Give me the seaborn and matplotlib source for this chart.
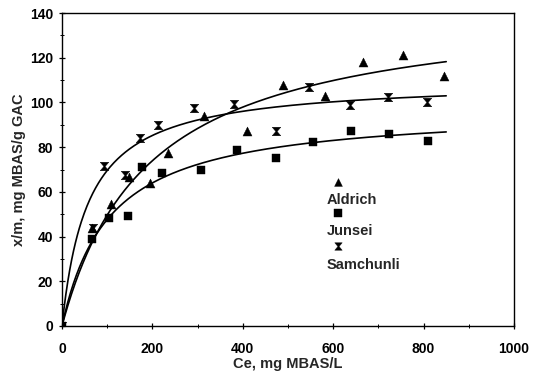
import numpy as np
import pandas as pd
import matplotlib
matplotlib.use("Agg")
import matplotlib.pyplot as plt
from matplotlib.path import Path
from matplotlib.ticker import MultipleLocator
import seaborn as sns

# Equilibrium MBAS concentration (mg/L) and uptake (mg MBAS / g GAC)
ce_aldrich = [0, 66, 108, 148, 195, 235, 314, 409, 489, 582, 666, 754, 845]
q_aldrich = [0, 44, 54.6, 66.6, 64, 77.4, 94, 87.2, 107.8, 103, 118, 121, 112]

ce_junsei = [0, 66, 104, 146, 177, 221, 307, 387, 473, 556, 639, 724, 810]
q_junsei = [0, 39, 48.3, 49.2, 71, 68.4, 69.8, 78.7, 75.1, 82.3, 87.2, 85.9, 82.7]

ce_samchunli = [0, 68, 93, 139, 173, 213, 292, 381, 473, 546, 637, 721, 807]
q_samchunli = [0, 44, 71.6, 67.5, 84, 90, 97.5, 99.3, 87.2, 107, 98.8, 102.4, 100.2]

suppliers = ["Aldrich", "Junsei", "Samchunli"]

# Langmuir isotherm constants (Qm in mg/g, b in L/mg)
langmuir_qm = {"Aldrich": 145.0, "Junsei": 97.5, "Samchunli": 110.0}
langmuir_b = {"Aldrich": 0.0052, "Junsei": 0.00955, "Samchunli": 0.0172}
ce_fit_max = 850

sns.set_theme(style="ticks")
plt.rcParams["font.family"] = ["Liberation Sans", "DejaVu Sans"]
plt.rcParams["font.weight"] = "bold"

df = pd.concat([
    pd.DataFrame({"ce": ce_aldrich, "q": q_aldrich, "supplier": "Aldrich"}),
    pd.DataFrame({"ce": ce_junsei, "q": q_junsei, "supplier": "Junsei"}),
    pd.DataFrame({"ce": ce_samchunli, "q": q_samchunli, "supplier": "Samchunli"}),
], ignore_index=True)

hourglass = Path([(-1, 1), (1, 1), (0.15, 0), (1, -1), (-1, -1), (-0.15, 0), (-1, 1)],
                 [Path.MOVETO, Path.LINETO, Path.LINETO, Path.LINETO,
                  Path.LINETO, Path.LINETO, Path.CLOSEPOLY])
marker_map = {"Aldrich": "^", "Junsei": "s", "Samchunli": hourglass}
size_map = {"Aldrich": 42, "Junsei": 36, "Samchunli": 38}

fig = plt.figure(figsize=(5.38, 3.75), dpi=100)
ax = fig.add_axes([0.1152, 0.1307, 0.8402, 0.8346])

# fitted isotherm curves
fit_rows = []
for name in suppliers:
    ce = np.linspace(0, ce_fit_max, 400)
    qm, b = langmuir_qm[name], langmuir_b[name]
    fit_rows.append(pd.DataFrame({"ce": ce, "q": qm * b * ce / (1 + b * ce), "supplier": name}))
fit = pd.concat(fit_rows, ignore_index=True)
sns.lineplot(data=fit, x="ce", y="q", units="supplier", estimator=None,
             color="black", lw=1.2, legend=False, ax=ax)

for name in suppliers:
    sub = df[df["supplier"] == name]
    sns.scatterplot(data=sub, x="ce", y="q", marker=marker_map[name], s=size_map[name],
                    color="black", edgecolor="black", linewidth=0.3, legend=False,
                    ax=ax, zorder=3)

ax.set_xlim(0, 1000)
ax.set_ylim(0, 140)
ax.xaxis.set_major_locator(MultipleLocator(200))
ax.xaxis.set_minor_locator(MultipleLocator(100))
ax.yaxis.set_major_locator(MultipleLocator(20))
ax.yaxis.set_minor_locator(MultipleLocator(10))
ax.tick_params(which="major", direction="inout", length=5, width=0.9, colors="black",
               labelsize=10, pad=2)
ax.tick_params(which="minor", direction="inout", length=3.5, width=0.7, colors="black")
ax.tick_params(axis="x", pad=9)
ax.tick_params(axis="y", pad=4)
for s in ax.spines.values():
    s.set_visible(True)
    s.set_color("black")
    s.set_linewidth(1.0)

ax.set_xlabel("Ce, mg MBAS/L", fontsize=10.5, fontweight="bold", labelpad=1)
ax.set_ylabel("x/m, mg MBAS/g GAC", fontsize=10.5, fontweight="bold", labelpad=3)

# stacked key: marker above each supplier name
key_y = [(0.459, 0.404), (0.360, 0.303), (0.255, 0.194)]
for name, (ym, yt) in zip(suppliers, key_y):
    ax.scatter([0.611], [ym], transform=ax.transAxes, marker=marker_map[name],
               s=size_map[name] * 0.75, color="black", linewidth=0.3, zorder=3)
    ax.text(0.586, yt, name, transform=ax.transAxes, fontsize=10.5, fontweight="bold",
            ha="left", va="center")

fig.savefig("out.png", dpi=100)
